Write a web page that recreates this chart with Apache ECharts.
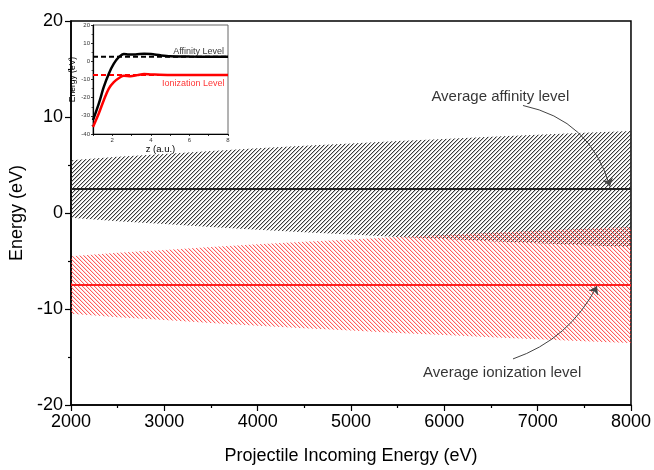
<!DOCTYPE html>
<html>
<head>
<meta charset="utf-8">
<script src="https://cdn.jsdelivr.net/npm/echarts@6/dist/echarts.min.js"></script>
<style>
  html, body { margin: 0; padding: 0; background: #fff; }
  #chart { width: 654px; height: 470px; }
</style>
</head>
<body>
<div id="chart"></div>
<script>
// Main chart data
const energy = [2000, 2500, 3000, 3500, 4000, 4500, 5000, 5500, 6000, 6500, 7000, 7500, 8000];
const affinityUpper = [5.5, 5.85, 6.15, 6.45, 6.75, 7.0, 7.25, 7.5, 7.7, 7.95, 8.15, 8.35, 8.55];
const affinityLower = [-0.5, -0.85, -1.15, -1.45, -1.75, -2.0, -2.25, -2.5, -2.7, -2.95, -3.15, -3.35, -3.55];
const ionUpper = [-4.5, -4.15, -3.85, -3.55, -3.25, -3.0, -2.75, -2.5, -2.3, -2.05, -1.85, -1.65, -1.45];
const ionLower = [-10.5, -10.85, -11.15, -11.45, -11.75, -12.0, -12.25, -12.5, -12.7, -12.95, -13.15, -13.35, -13.55];
const affinityAvg = [2.5, 2.5, 2.5, 2.5, 2.5, 2.5, 2.5, 2.5, 2.5, 2.5, 2.5, 2.5, 2.5];
const ionAvg = [-7.5, -7.5, -7.5, -7.5, -7.5, -7.5, -7.5, -7.5, -7.5, -7.5, -7.5, -7.5, -7.5];

// Annotations (data coords)
const affinityNote = ['Average affinity level', 6600, 12.1];
const ionNote = ['Average ionization level', 6620, -16.6];
const affinityArrow = [[6843, 11.2], [7775, 2.75]];
const ionArrow = [[6736, -15.2], [7636, -7.6]];

// Inset data
const insetZBlack = [1.0, 1.3, 1.56, 1.82, 2.08, 2.35, 2.6, 2.85, 3.2, 3.65, 4.0, 4.5, 5.0, 6.0, 7.0, 8.0];
const insetEBlack = [-32.4, -23.3, -14.1, -6.8, -1.3, 2.4, 4.1, 3.8, 3.8, 4.2, 4.0, 3.3, 2.8, 2.6, 2.5, 2.5];
const insetZRed = [1.0, 1.3, 1.56, 1.82, 2.08, 2.43, 2.6, 2.95, 3.3, 3.65, 4.0, 5.0, 6.0, 7.0, 8.0];
const insetERed = [-36.1, -28.7, -21.4, -15.0, -11.4, -8.6, -7.9, -8.2, -7.6, -7.0, -7.2, -7.5, -7.5, -7.5, -7.5];
const insetDashZ = [1, 8];
const insetDashBlack = [2.5, 2.5];
const insetDashRed = [-7.5, -7.5];
const insetLabels = [['Affinity Level', 6.48, 5.2, '#000'], ['Ionization Level', 6.2, -12, '#ff0000']];

const FONT = "'Liberation Sans', Arial, sans-serif";

function zip(xs, ys) {
    return xs.map((x, i) => [x, ys[i]]);
}

// diagonal hatch tile, dir 1 = '/', -1 = '\'
function hatch(r, g, b, dir, a0, a1) {
    const n = 4;
    const c = document.createElement('canvas');
    c.width = n; c.height = n;
    const ctx = c.getContext('2d');
    const img = ctx.createImageData(n, n);
    for (let y = 0; y < n; y++) {
        for (let x = 0; x < n; x++) {
            const d = dir > 0 ? (x + y) % n : ((x - y) % n + n) % n;
            const a = d === 0 ? a0 : (d === 1 ? a1 : 0);
            const k = (y * n + x) * 4;
            img.data[k] = r; img.data[k + 1] = g; img.data[k + 2] = b; img.data[k + 3] = a;
        }
    }
    ctx.putImageData(img, 0, 0);
    return { image: c, repeat: 'repeat' };
}

// hatched band between lower and upper, drawn as one polygon
function bandSeries(lower, upper, pattern) {
    return {
        type: 'custom', xAxisIndex: 0, yAxisIndex: 0, silent: true, z: 1,
        data: energy.map((x, i) => [x, lower[i], upper[i]]),
        renderItem: function (params, api) {
            if (params.dataIndex !== 0) return;
            const top = energy.map((x, i) => api.coord([x, upper[i]]));
            const bot = energy.map((x, i) => api.coord([x, lower[i]])).reverse();
            return {
                type: 'polygon',
                shape: { points: top.concat(bot) },
                style: { fill: pattern, stroke: null }
            };
        }
    };
}

const chart = echarts.init(document.getElementById('chart'), null, { renderer: 'canvas' });

const mainAxisCommon = {
    axisLine: { onZero: false, lineStyle: { color: '#000', width: 1.5 } },
    axisTick: { length: 6, lineStyle: { color: '#000', width: 1.2 } },
    minorTick: { show: true, splitNumber: 2, length: 3, lineStyle: { color: '#000', width: 1.2 } },
    splitLine: { show: false },
    axisLabel: { fontSize: 18, color: '#000', fontFamily: FONT, formatter: v => String(v) },
    nameLocation: 'middle',
    nameTextStyle: { fontSize: 18, color: '#000', fontFamily: FONT }
};

const insetAxisCommon = {
    axisLine: { onZero: false, lineStyle: { color: '#000', width: 1.2 } },
    axisTick: { length: 2, lineStyle: { color: '#000', width: 0.8 } },
    splitLine: { show: false },
    axisLabel: { fontSize: 6, color: '#333', fontFamily: FONT, margin: 3 },
    nameLocation: 'middle',
    nameTextStyle: { fontSize: 8.5, color: '#000', fontFamily: FONT }
};

const option = {
    backgroundColor: '#fff',
    animation: false,
    grid: [
        { left: 71, right: 23, top: 21, bottom: 62, show: true, borderColor: '#000', borderWidth: 1.5, backgroundColor: 'transparent' },
        { left: 93, right: 426, top: 25, bottom: 336, show: true, borderColor: '#666', borderWidth: 1, backgroundColor: '#fff', z: 5 }
    ],
    xAxis: [
        Object.assign({}, mainAxisCommon, {
            type: 'value', gridIndex: 0, min: 2000, max: 8000, interval: 1000,
            name: 'Projectile Incoming Energy (eV)', nameGap: 42
        }),
        Object.assign({}, insetAxisCommon, {
            type: 'value', gridIndex: 1, min: 1, max: 8, interval: 1, z: 6,
            axisLabel: Object.assign({}, insetAxisCommon.axisLabel, {
                formatter: v => (v % 2 === 0 ? String(v) : '')
            }),
            name: 'z (a.u.)', nameGap: 8, nameTextStyle: { fontSize: 9.5, color: '#000', fontFamily: FONT }
        })
    ],
    yAxis: [
        Object.assign({}, mainAxisCommon, {
            type: 'value', gridIndex: 0, min: -20, max: 20, interval: 10,
            name: 'Energy (eV)', nameGap: 40
        }),
        Object.assign({}, insetAxisCommon, {
            type: 'value', gridIndex: 1, min: -40, max: 20, interval: 10, z: 6,
            minorTick: { show: true, splitNumber: 2, length: 1.5, lineStyle: { color: '#000', width: 0.6 } },
            name: 'Energy (eV)', nameGap: 10
        })
    ],
    series: [
        bandSeries(affinityLower, affinityUpper, hatch(40, 40, 40, 1, 235, 70)),
        bandSeries(ionLower, ionUpper, hatch(255, 40, 40, -1, 190, 45)),
        {
            name: 'affAvg', type: 'line', data: zip(energy, affinityAvg), symbol: 'none',
            lineStyle: { color: '#222', width: 2 }, z: 3, silent: true
        },
        {
            name: 'ionAvg', type: 'line', data: zip(energy, ionAvg), symbol: 'none',
            lineStyle: { color: '#ff2020', width: 2 }, z: 3, silent: true
        },
        {
            type: 'lines', coordinateSystem: 'cartesian2d', xAxisIndex: 0, yAxisIndex: 0,
            symbol: ['none', 'arrow'], symbolSize: 8, silent: true, z: 4,
            lineStyle: { color: '#444', width: 1, curveness: 0.3, opacity: 1 },
            data: [{ coords: affinityArrow }]
        },
        {
            type: 'lines', coordinateSystem: 'cartesian2d', xAxisIndex: 0, yAxisIndex: 0,
            symbol: ['none', 'arrow'], symbolSize: 8, silent: true, z: 4,
            lineStyle: { color: '#444', width: 1, curveness: -0.2, opacity: 1 },
            data: [{ coords: ionArrow }]
        },
        {
            type: 'scatter', xAxisIndex: 0, yAxisIndex: 0, symbolSize: 1, silent: true, z: 4,
            itemStyle: { color: 'rgba(0,0,0,0)' },
            label: {
                show: true, position: 'inside', formatter: p => p.value[2],
                fontSize: 15, color: '#000', fontFamily: FONT
            },
            data: [[affinityNote[1], affinityNote[2], affinityNote[0]], [ionNote[1], ionNote[2], ionNote[0]]]
        },
        // inset
        {
            type: 'line', xAxisIndex: 1, yAxisIndex: 1, data: zip(insetDashZ, insetDashBlack), symbol: 'none',
            lineStyle: { color: '#000', width: 2, type: [5, 3] }, z: 7, silent: true
        },
        {
            type: 'line', xAxisIndex: 1, yAxisIndex: 1, data: zip(insetDashZ, insetDashRed), symbol: 'none',
            lineStyle: { color: '#ff0000', width: 2, type: [5, 3] }, z: 7, silent: true
        },
        {
            type: 'line', xAxisIndex: 1, yAxisIndex: 1, data: zip(insetZBlack, insetEBlack), symbol: 'none',
            smooth: 0.3, lineStyle: { color: '#000', width: 2.5 }, z: 8, silent: true
        },
        {
            type: 'line', xAxisIndex: 1, yAxisIndex: 1, data: zip(insetZRed, insetERed), symbol: 'none',
            smooth: 0.3, lineStyle: { color: '#ff0000', width: 2.5 }, z: 8, silent: true
        },
        {
            type: 'scatter', xAxisIndex: 1, yAxisIndex: 1, symbolSize: 1, silent: true, z: 9,
            itemStyle: { color: 'rgba(0,0,0,0)' },
            label: {
                show: true, position: 'inside', fontSize: 9, fontFamily: FONT,
                formatter: p => p.value[2],
                color: '#000'
            },
            data: insetLabels.map(l => ({ value: [l[1], l[2], l[0]], label: { color: l[3] } }))
        }
    ]
};

chart.setOption(option);
</script>
</body>
</html>
